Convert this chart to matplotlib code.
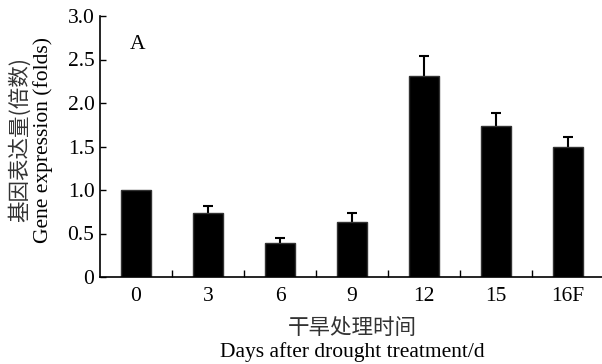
import matplotlib.pyplot as plt
import numpy as np

days = ["0", "3", "6", "9", "12", "15", "16F"]
expression = [1.0, 0.74, 0.39, 0.63, 2.31, 1.73, 1.50]
err_up = [0.0, 0.08, 0.06, 0.11, 0.23, 0.15, 0.11]
yticks = [0, 0.5, 1.0, 1.5, 2.0, 2.5, 3.0]
ytick_labels = ["0", "0.5", "1.0", "1.5", "2.0", "2.5", "3.0"]

plt.rcParams['font.family'] = ['Liberation Serif', 'Noto Sans CJK SC']
fs = 15.5

fig = plt.figure(figsize=(6.02, 3.64), dpi=100)
ax = fig.add_axes([100/602, 87/364, 504/602, 261/364])

x = np.arange(len(days))
vals = np.array(expression)
err = np.array(err_up)
ax.bar(x, vals, width=0.42, color="black", edgecolor="#333333", zorder=2)
# upward-only error bars
m = err > 0
ax.vlines(x[m], vals[m], vals[m] + err[m], color="black", lw=1.5, zorder=1)
ax.hlines(vals[m] + err[m], x[m] - 0.07, x[m] + 0.07, color="black", lw=1.5, zorder=1)

ax.set_xlim(-0.5, 6.5)
ax.set_ylim(0, 3.0)
ax.set_yticks(yticks)
ax.set_yticklabels(ytick_labels, fontsize=fs)
ax.set_xticks(x)
ax.set_xticklabels(days, fontsize=fs)
ax.tick_params(axis="x", length=0, pad=7)
ax.set_xticks(x[:-1] + 0.5, minor=True)
ax.tick_params(axis="x", which="minor", direction="in", length=5, width=1)
ax.tick_params(axis="y", direction="in", length=4, width=1, pad=4)

for s in ["top", "right"]:
    ax.spines[s].set_visible(False)
ax.spines["left"].set_linewidth(1.2)
ax.spines["bottom"].set_linewidth(1.2)

ax.text(-0.09, 2.67, "A", fontsize=fs, va="center")

fig.text(20/602, 1 - 140/364, "基因表达量(倍数)", rotation=90, ha="center", va="center",
         fontsize=fs, family=['Noto Sans CJK SC'], color="#333333", fontweight="light")
fig.text(43/602, 1 - 140/364, "Gene expression (folds)", rotation=90, ha="center", va="center",
         fontsize=fs)
fig.text(352/602, 1 - 328/364, "干旱处理时间", ha="center", va="center",
         fontsize=fs, family=['Noto Sans CJK SC'], color="#333333", fontweight="light")
fig.text(352/602, 1 - 352/364, "Days after drought treatment/d", ha="center", va="center",
         fontsize=fs)

fig.savefig("out.png", dpi=100)
